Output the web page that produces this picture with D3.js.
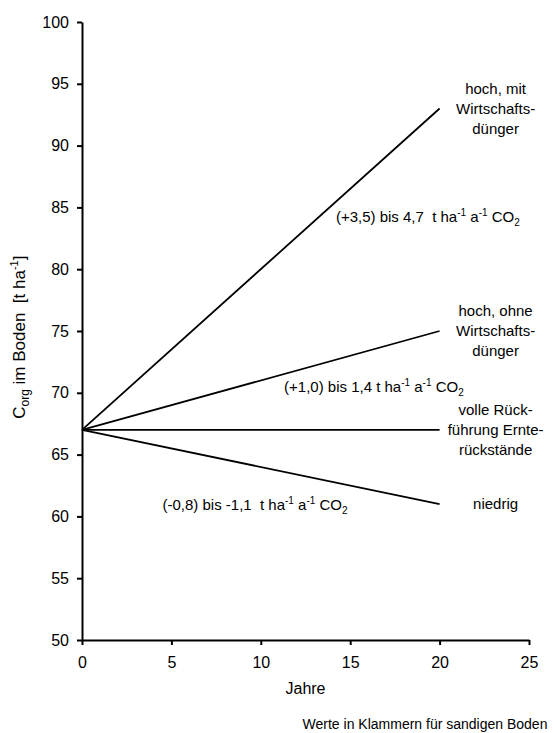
<!DOCTYPE html>
<html lang="de">
  <head>
    <meta charset="utf-8">
    <title>Corg im Boden</title>
    <style>
      body { margin: 0; background: white; }
      svg { display: block; font-family: "Liberation Sans", Arial, sans-serif; }
      .axis path, .axis line { stroke: black; stroke-width: 2; }
      .axis text { font-size: 16px; fill: black; }
      .lbl { font-size: 15px; fill: black; }
    </style>
    <script src="https://d3js.org/d3.v7.min.js"></script>
  </head>
  <body>
    <script>
    // data
    const years = [0, 20];
    const startValue = 67;
    const endValues = [93, 75, 67, 61];
    const endLabels = [
      ["hoch, mit", "Wirtschafts-", "dünger"],
      ["hoch, ohne", "Wirtschafts-", "dünger"],
      ["volle Rück-", "führung Ernte-", "rückstände"],
      ["niedrig"]
    ];
    const rateTexts = [
      ["(+3,5) bis 4,7  t ha", "-1", " a", "-1", " CO", "2"],
      ["(+1,0) bis 1,4 t ha", "-1", " a", "-1", " CO", "2"],
      ["(-0,8) bis -1,1  t ha", "-1", " a", "-1", " CO", "2"]
    ];
    // where the rate labels sit, in chart units (year, value)
    const rateAnchors = [[14.2, 84.2], [11.3, 70.5], [4.5, 60.9]];
    const xTicks = [0, 5, 10, 15, 20, 25];
    const yTicks = [50, 55, 60, 65, 70, 75, 80, 85, 90, 95, 100];

    const W = 554, H = 733;
    const margin = { top: 22, left: 82, right: 25, bottom: 93 };

    const svg = d3.select("body").append("svg")
      .attr("width", W).attr("height", H);

    const x = d3.scaleLinear().domain([0, 25]).range([margin.left, W - margin.right]);
    const y = d3.scaleLinear().domain([50, 100]).range([H - margin.bottom, margin.top]);

    svg.append("g")
      .attr("class", "axis")
      .attr("transform", `translate(0,${y(50)})`)
      .call(d3.axisBottom(x).tickValues(xTicks).tickSize(5).tickSizeOuter(0).tickPadding(12))

    svg.append("g")
      .attr("class", "axis")
      .attr("transform", `translate(${x(0)},0)`)
      .call(d3.axisLeft(y).tickValues(yTicks).tickSize(5).tickSizeOuter(0).tickPadding(8))

    // lines
    const line = d3.line().x(d => x(d[0])).y(d => y(d[1]));
    svg.append("g").selectAll("path")
      .data(endValues)
      .join("path")
      .attr("d", v => line([[years[0], startValue], [years[1], v]]))
      .attr("fill", "none")
      .attr("stroke", "black")
      .attr("stroke-width", 1.8);

    // end labels, middle row level with the line end
    const labelX = x(20) + 56;
    endValues.forEach((v, i) => {
      const rows = endLabels[i];
      const t = svg.append("text")
        .attr("class", "lbl")
        .attr("text-anchor", "middle")
        .attr("x", labelX)
        .attr("y", y(v) - (rows.length - 1) / 2 * 20 + 5);
      rows.forEach((r, j) => {
        t.append("tspan").attr("x", labelX).attr("dy", j ? 20 : 0).text(r);
      });
    });

    // rate labels with super/subscripts
    rateTexts.forEach((parts, i) => {
      const t = svg.append("text")
        .attr("class", "lbl")
        .style("white-space", "pre")
        .attr("x", x(rateAnchors[i][0]))
        .attr("y", y(rateAnchors[i][1]) + 5);
      let shift = 0;
      parts.forEach((p, j) => {
        const target = (j === 1 || j === 3) ? -6 : (j === 5 ? 4 : 0);
        const s = t.append("tspan").text(p);
        if (target !== 0) s.attr("font-size", 10);
        if (target !== shift) s.attr("dy", target - shift);
        shift = target;
      });
    });

    // axis titles
    svg.append("text")
      .attr("class", "lbl")
      .style("font-size", "16px")
      .attr("text-anchor", "middle")
      .attr("x", x(12.5))
      .attr("y", y(50) + 54)
      .text("Jahre");

    const yt = svg.append("text")
      .attr("class", "lbl")
      .style("font-size", "17px")
      .attr("text-anchor", "middle")
      .attr("transform", `translate(25,${y(74.5)}) rotate(-90)`)
      .style("white-space", "pre");
    yt.append("tspan").text("C");
    yt.append("tspan").attr("font-size", 12).attr("dy", 4).text("org");
    yt.append("tspan").attr("dy", -4).text(" im Boden  [t ha");
    yt.append("tspan").attr("font-size", 11).attr("dy", -7).text("-1");
    yt.append("tspan").attr("dy", 7).text("]");

    svg.append("text")
      .attr("class", "lbl")
      .style("font-size", "14px")
      .attr("text-anchor", "middle")
      .attr("x", 425)
      .attr("y", H - 4)
      .text("Werte in Klammern für sandigen Boden");
    </script>
  </body>
</html>
